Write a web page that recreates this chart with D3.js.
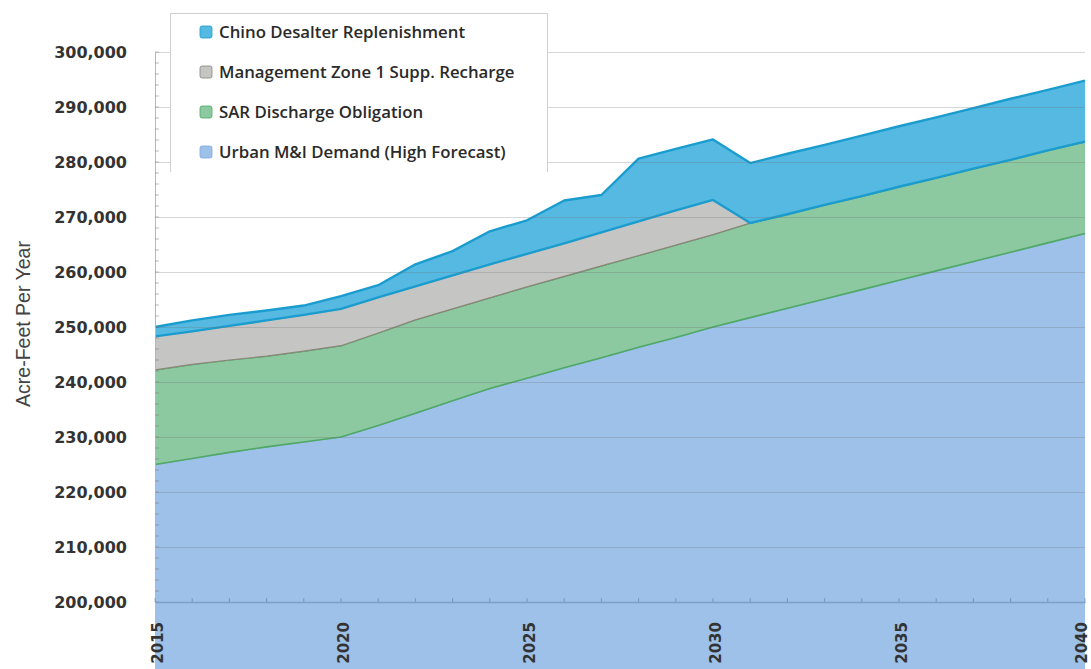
<!DOCTYPE html>
<html>
<head>
<meta charset="utf-8">
<script src="https://cdn.jsdelivr.net/npm/d3@7"></script>
<style>
  html, body { margin: 0; padding: 0; background: #fff; }
  svg { display: block; }
</style>
</head>
<body>
<script>
// Water demand stack, acre-feet per year
var years = [2015, 2016, 2017, 2018, 2019, 2020, 2021, 2022, 2023, 2024, 2025, 2026, 2027,
             2028, 2029, 2030, 2031, 2032, 2033, 2034, 2035, 2036, 2037, 2038, 2039, 2040];

var urbanDemand = [225000, 226100, 227200, 228200, 229100, 230000, 232100, 234300, 236600, 238800,
                   240700, 242600, 244400, 246300, 248100, 250000, 251700, 253400, 255100, 256800,
                   258500, 260200, 261900, 263600, 265300, 267000];
var sarDischarge = [17200, 17100, 16800, 16500, 16500, 16600, 16800, 17000, 16700, 16500,
                    16600, 16600, 16700, 16700, 16800, 16800, 17200, 17100, 17100, 17000,
                    17000, 16900, 16900, 16800, 16800, 16700];
var mz1Recharge = [6100, 6000, 6200, 6500, 6600, 6700, 6500, 6100, 6100, 6100,
                   6000, 6000, 6100, 6200, 6300, 6300, 0, 0, 0, 0,
                   0, 0, 0, 0, 0, 0];
var chinoDesalter = [1700, 2000, 2000, 1800, 1700, 2300, 2200, 4000, 4400, 6000,
                     6100, 7800, 6800, 11400, 11200, 11000, 10900, 11000, 10900, 11000,
                     11000, 11000, 11000, 11100, 11000, 11100];

var yTicks = [200000, 210000, 220000, 230000, 240000, 250000, 260000, 270000, 280000, 290000, 300000];
var xTicks = [2015, 2020, 2025, 2030, 2035, 2040];

var series = [
  {key: "urban", label: "Urban M&I Demand (High Forecast)", fill: "#9dc1e9", line: "#7ea9dc", w: 1.2},
  {key: "sar", label: "SAR Discharge Obligation", fill: "#8cc8a0", line: "#4fa865", w: 1.6},
  {key: "mz1", label: "Management Zone 1 Supp. Recharge", fill: "#c5c5c3", line: "#8c857a", w: 1.2},
  {key: "chino", label: "Chino Desalter Replenishment", fill: "#55b9e1", line: "#1b9ccf", w: 2.4}
];

(function(){
  var W = 1091, H = 669,
      m = {left: 155, right: 1085, top: 52, bottom: 602};

  var rows = years.map(function(y, i){
    return {year: y, urban: urbanDemand[i], sar: sarDischarge[i], mz1: mz1Recharge[i], chino: chinoDesalter[i]};
  });

  var svg = d3.select("body").append("svg").attr("width", W).attr("height", H);

  var x = d3.scaleLinear().domain([2015, 2040]).range([m.left, m.right]);
  var y = d3.scaleLinear().domain([200000, 300000]).range([m.bottom, m.top]);

  var stacked = d3.stack().keys(series.map(function(s){ return s.key; }))(rows);

  var area = d3.area()
    .x(function(d){ return x(d.data.year); })
    .y0(function(d){ return y(d[0]); })
    .y1(function(d){ return y(d[1]); });
  var top = d3.line()
    .x(function(d){ return x(d.data.year); })
    .y(function(d){ return y(d[1]); });
  var bottom = d3.line()
    .x(function(d){ return x(d.data.year); })
    .y(function(d){ return y(d[0]); });

  var g = svg.append("g");
  stacked.forEach(function(layer, i){
    var s = series[i];
    g.append("path").datum(layer).attr("d", area).attr("fill", s.fill);
    if (i > 0)
      g.append("path").datum(layer).attr("d", bottom)
        .attr("fill", "none").attr("stroke", s.line).attr("stroke-width", s.w).attr("stroke-linejoin", "round");
    g.append("path").datum(layer).attr("d", top)
      .attr("fill", "none").attr("stroke", s.line).attr("stroke-width", s.w).attr("stroke-linejoin", "round");
  });

  // gridlines over the fills, like the scanned original
  svg.append("g").selectAll("line").data(yTicks.slice(1)).enter().append("line")
    .attr("x1", m.left).attr("x2", m.right)
    .attr("y1", function(d){ return y(d) + 0.5; }).attr("y2", function(d){ return y(d) + 0.5; })
    .attr("stroke", "rgba(110,110,110,0.28)").attr("stroke-width", 1.2);

  // axes
  var yAxis = d3.axisLeft(y).tickValues(yTicks).tickSize(0).tickPadding(28)
    .tickFormat(d3.format(","));
  var ya = svg.append("g").attr("transform", "translate(" + m.left + ",0)").call(yAxis);
  ya.select(".domain").attr("stroke", "#b8b8b8");
  ya.selectAll("text").attr("font-family", "DejaVu Sans").attr("font-weight", "bold")
    .attr("font-size", "16px").attr("fill", "#333");

  // minor ticks on the value axis
  svg.append("g").selectAll("line").data(d3.range(200000, 300001, 2000)).enter().append("line")
    .attr("x1", m.left).attr("x2", m.left + 4)
    .attr("y1", function(d){ return y(d); }).attr("y2", function(d){ return y(d); })
    .attr("stroke", "rgba(120,120,120,0.5)");

  var xAxis = d3.axisBottom(x).tickValues(xTicks).tickSize(0).tickFormat(d3.format("d"));
  var xa = svg.append("g").attr("transform", "translate(0," + m.bottom + ")").call(xAxis);
  xa.select(".domain").attr("stroke", "#7d9fc8").attr("stroke-width", 1.5);
  xa.selectAll("text")
    .attr("font-family", "DejaVu Sans").attr("font-weight", "bold").attr("font-size", "15px").attr("fill", "#333")
    .attr("transform", "rotate(-90)").attr("text-anchor", "end")
    .attr("x", -20).attr("y", function(d){ return d === 2040 ? -4 : 2; }).attr("dy", "0.36em");

  svg.append("g").selectAll("line").data(years).enter().append("line")
    .attr("x1", function(d){ return x(d); }).attr("x2", function(d){ return x(d); })
    .attr("y1", m.bottom).attr("y2", m.bottom - 4)
    .attr("stroke", "rgba(90,110,140,0.5)");

  svg.append("text")
    .attr("transform", "translate(30,324) rotate(-90)")
    .attr("text-anchor", "middle")
    .attr("font-family", "Liberation Sans").attr("font-size", "19.5px").attr("fill", "#444")
    .text("Acre-Feet Per Year");

  // legend box
  var lg = svg.append("g");
  lg.append("rect").attr("x", 170).attr("y", 13).attr("width", 378).attr("height", 160).attr("fill", "#fff");
  lg.append("path").attr("d", "M170.5,172V13.5H547.5V172")
    .attr("fill", "none").attr("stroke", "#cfcfcf");
  var legendOrder = series.slice().reverse();
  var item = lg.selectAll("g.item").data(legendOrder).enter().append("g")
    .attr("transform", function(d, i){ return "translate(200," + (32 + i * 40) + ")"; });
  item.append("rect").attr("x", 0).attr("y", -6).attr("width", 12).attr("height", 12).attr("rx", 2)
    .attr("fill", function(d){ return d.fill; }).attr("stroke", function(d){ return d.line; }).attr("stroke-width", 0.8);
  item.append("text").attr("x", 19).attr("dy", "0.36em")
    .attr("font-family", "Open Sans").attr("font-weight", 600).attr("font-size", "16.8px").attr("fill", "#2a2a2a")
    .text(function(d){ return d.label; });
})();
</script>
</body>
</html>
